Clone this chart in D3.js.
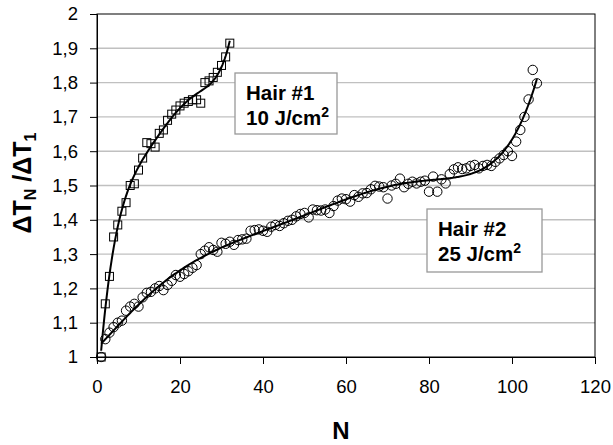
<!DOCTYPE html>
<html>
<head>
<meta charset="utf-8">
<script src="https://cdn.jsdelivr.net/npm/d3@7"></script>
<style>
  body { margin: 0; background: #fff; }
  text { font-family: Arial, "Liberation Sans", sans-serif; }
</style>
</head>
<body>
<script>
// Hair #1, 10 J/cm2 (squares)
const hair1N = d3.range(1, 33);
const hair1Val = [
  1.00, 1.155, 1.235, 1.35, 1.385, 1.425, 1.45, 1.50, 1.505, 1.545,
  1.58, 1.625, 1.622, 1.612, 1.652, 1.662, 1.69, 1.708, 1.72, 1.732,
  1.74, 1.745, 1.75, 1.75, 1.74, 1.80, 1.805, 1.815, 1.83, 1.85,
  1.875, 1.915
];

// Hair #2, 25 J/cm2 (circles)
const hair2N = d3.range(1, 107);
const hair2Val = [
  1.00, 1.052, 1.071, 1.087, 1.10, 1.106, 1.135, 1.147, 1.155, 1.147,
  1.174, 1.187, 1.19, 1.20, 1.207, 1.195, 1.21, 1.222, 1.239, 1.234,
  1.242, 1.25, 1.26, 1.268, 1.30, 1.31, 1.32, 1.312, 1.307, 1.333,
  1.33, 1.336, 1.327, 1.341, 1.343, 1.345, 1.368, 1.37, 1.372, 1.368,
  1.365, 1.38, 1.385, 1.382, 1.39, 1.397, 1.40, 1.41, 1.417, 1.42,
  1.407, 1.43, 1.428, 1.427, 1.43, 1.42, 1.44, 1.456, 1.462, 1.46,
  1.453, 1.472, 1.467, 1.477, 1.478, 1.489, 1.499, 1.497, 1.495, 1.462,
  1.50, 1.505, 1.52, 1.495, 1.505, 1.511, 1.506, 1.511, 1.514, 1.482,
  1.526, 1.482, 1.518, 1.506, 1.533, 1.547, 1.553, 1.548, 1.55, 1.557,
  1.56, 1.55, 1.557, 1.56, 1.557, 1.569, 1.579, 1.589, 1.60, 1.586,
  1.628, 1.662, 1.70, 1.751, 1.837, 1.798
];

const xTicks = [0, 20, 40, 60, 80, 100, 120];
const yTicks = [1, 1.1, 1.2, 1.3, 1.4, 1.5, 1.6, 1.7, 1.8, 1.9, 2];

let margin = {top: 14, right: 18, bottom: 88, left: 97},
    width = 613 - margin.left - margin.right,
    height = 445 - margin.top - margin.bottom;

let svg = d3.select('body').append('svg')
    .attr('width', 613)
    .attr('height', 445);

let g = svg.append('g')
    .attr('transform', `translate(${margin.left},${margin.top})`);

let x = d3.scaleLinear().domain([0, 120]).range([0, width]);
let y = d3.scaleLinear().domain([1, 2]).range([height, 0]);

const comma = d3.formatLocale({decimal: ',', thousands: '.', grouping: [3], currency: ['', '']}).format('.1~f');

// grid lines
g.selectAll('.grid').data(yTicks.filter(d => d > 1 && d < 2))
  .enter().append('line')
    .attr('class', 'grid')
    .attr('x1', 0).attr('x2', width)
    .attr('y1', d => y(d)).attr('y2', d => y(d))
    .style('stroke', '#c0c0c0')
    .style('stroke-width', 1.4);

// frame
g.append('rect')
    .attr('width', width).attr('height', height)
    .style('fill', 'none').style('stroke', '#000').style('stroke-width', 1);

let xAxis = g.append('g')
    .attr('transform', `translate(0,${height})`)
    .call(d3.axisBottom(x).tickValues(xTicks).tickSize(7).tickPadding(16));
let yAxis = g.append('g')
    .call(d3.axisLeft(y).tickValues(yTicks).tickSize(7).tickFormat(comma).tickPadding(12));

[xAxis, yAxis].forEach(a => {
  a.selectAll('path, line').style('stroke', '#000').style('stroke-width', 1);
  a.selectAll('text').style('font-size', '18.5px').style('fill', '#000')
    .style('font-family', 'Arial, "Liberation Sans", sans-serif');
});

// least squares polynomial trendline
function polyfit(xs, ys, deg) {
  let n = deg + 1;
  let mx = d3.mean(xs), sx = (d3.max(xs) - d3.min(xs)) / 2;
  let t = xs.map(v => (v - mx) / sx);
  let A = d3.range(n).map(() => new Array(n).fill(0));
  let b = new Array(n).fill(0);
  t.forEach((ti, k) => {
    for (let i = 0; i < n; i++) {
      b[i] += ys[k] * Math.pow(ti, i);
      for (let j = 0; j < n; j++) A[i][j] += Math.pow(ti, i + j);
    }
  });
  for (let c = 0; c < n; c++) {
    let p = c;
    for (let r = c + 1; r < n; r++) if (Math.abs(A[r][c]) > Math.abs(A[p][c])) p = r;
    [A[c], A[p]] = [A[p], A[c]]; [b[c], b[p]] = [b[p], b[c]];
    for (let r = c + 1; r < n; r++) {
      let f = A[r][c] / A[c][c];
      for (let j = c; j < n; j++) A[r][j] -= f * A[c][j];
      b[r] -= f * b[c];
    }
  }
  let coef = new Array(n).fill(0);
  for (let i = n - 1; i >= 0; i--) {
    let s = b[i];
    for (let j = i + 1; j < n; j++) s -= A[i][j] * coef[j];
    coef[i] = s / A[i][i];
  }
  return v => coef.reduce((acc, c, i) => acc + c * Math.pow((v - mx) / sx, i), 0);
}

let pathGen = d3.line().x(d => x(d[0])).y(d => y(d[1]));

function trend(ns, vals, deg) {
  let f = polyfit(ns, vals, deg);
  let pts = d3.range(ns[0], ns[ns.length - 1] + 0.001, 0.25).map(n => [n, f(n)]);
  g.append('path').attr('d', pathGen(pts))
    .style('fill', 'none').style('stroke', '#000').style('stroke-width', 2);
}

// markers
g.selectAll('.sq').data(hair1N)
  .enter().append('rect')
    .attr('class', 'sq')
    .attr('x', (d, i) => x(d) - 4)
    .attr('y', (d, i) => y(hair1Val[i]) - 4)
    .attr('width', 8).attr('height', 8)
    .style('fill', 'none').style('stroke', '#000').style('stroke-width', 1);

g.selectAll('.ci').data(hair2N)
  .enter().append('circle')
    .attr('class', 'ci')
    .attr('cx', d => x(d))
    .attr('cy', (d, i) => y(hair2Val[i]))
    .attr('r', 4.7)
    .style('fill', 'none').style('stroke', '#000').style('stroke-width', 1);

trend(hair1N, hair1Val, 5);
trend(hair2N, hair2Val, 6);

// label boxes
function labelBox(bx, by, bw, bh, line1, line2) {
  svg.append('rect').attr('x', bx).attr('y', by).attr('width', bw).attr('height', bh)
    .style('fill', '#fff').style('stroke', '#999').style('stroke-width', 1.3);
  svg.append('text').attr('x', bx + 11).attr('y', by + 27)
    .style('font-size', '20.5px').style('font-weight', 'bold').text(line1);
  let t = svg.append('text').attr('x', bx + 11).attr('y', by + 52)
    .style('font-size', '20.5px').style('font-weight', 'bold');
  t.append('tspan').text(line2);
  t.append('tspan').attr('dy', -8).style('font-size', '14px').text('2');
}
labelBox(235, 73, 102, 61, 'Hair #1', '10 J/cm');
labelBox(427, 209, 115, 63, 'Hair #2', '25 J/cm');

// axis titles
svg.append('text')
    .attr('x', 341).attr('y', 439)
    .attr('text-anchor', 'middle')
    .style('font-size', '24px').style('font-weight', 'bold')
    .text('N');

let yl = svg.append('text')
    .attr('transform', 'translate(31,183) rotate(-90)')
    .attr('text-anchor', 'middle')
    .style('font-size', '25px').style('font-weight', 'bold');
yl.append('tspan').text('ΔT');
yl.append('tspan').attr('dy', 5).style('font-size', '16px').text('N');
yl.append('tspan').attr('dy', -5).text(' /ΔT');
yl.append('tspan').attr('dy', 5).style('font-size', '16px').text('1');
</script>
</body>
</html>
